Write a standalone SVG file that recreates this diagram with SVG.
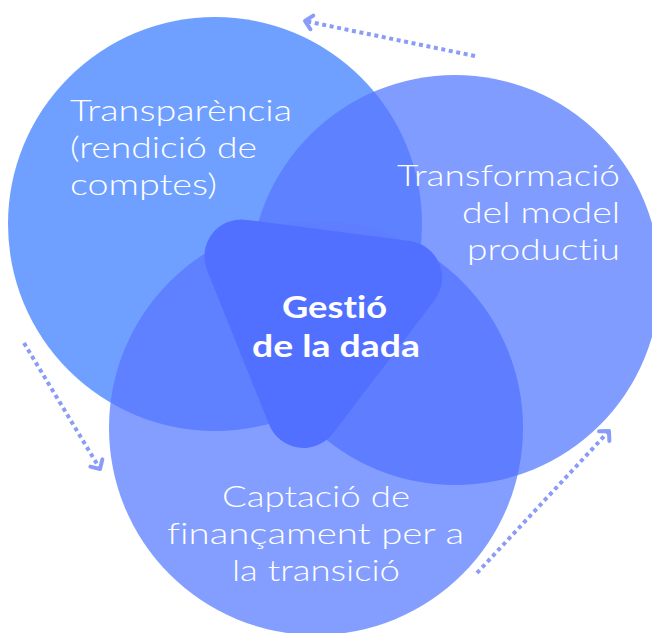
<svg xmlns="http://www.w3.org/2000/svg" width="652" height="633" viewBox="0 0 652 633">
  <style>
    .lbl { font-family: Lato, "Open Sans", "Liberation Sans", sans-serif; font-weight: 300; font-size: 30px; fill: #ffffff; font-variant-ligatures: none; }
    .ctr { font-family: Lato, "Open Sans", "Liberation Sans", sans-serif; font-weight: 700; font-size: 30px; fill: #ffffff; font-variant-ligatures: none; }
    .dots { fill: none; stroke: #8A9CF8; stroke-width: 4; stroke-dasharray: 4 3.6; }
    .ov { stroke: none; }
  </style>
  <defs>
    <clipPath id="clipC1"><circle cx="215" cy="224" r="207"/></clipPath>
    <clipPath id="clipC2"><circle cx="455" cy="280" r="205"/></clipPath>
    <marker id="chev" markerUnits="userSpaceOnUse" markerWidth="20" markerHeight="20" viewBox="-12 -10 16 20" refX="0" refY="0" orient="auto">
      <path d="M -7 -7 L 0 0 L -7 7" fill="none" stroke="#8A9CF8" stroke-width="4" stroke-linecap="round" stroke-linejoin="round"/>
    </marker>
  </defs>

  <g id="node-transparencia">
    <circle cx="215" cy="224" r="207" fill="#6FA0FF"/>
  </g>
  <g id="node-transformacio">
    <circle cx="455" cy="280" r="205" fill="#809CFF"/>
  </g>
  <g id="node-captacio">
    <circle cx="316" cy="428" r="207" fill="#839EFF"/>
  </g>
  <g id="overlaps">
    <circle class="ov" cx="455" cy="280" r="205" fill="#5E82FF" clip-path="url(#clipC1)"/>
    <circle class="ov" cx="316" cy="428" r="207" fill="#5F80FF" clip-path="url(#clipC1)"/>
    <circle class="ov" cx="316" cy="428" r="207" fill="#5E7DFF" clip-path="url(#clipC2)"/>
  </g>

  <g id="labels">
    <text class="lbl" x="70" y="121" textLength="222" lengthAdjust="spacingAndGlyphs">Transparència</text>
    <text class="lbl" x="70" y="158" textLength="187" lengthAdjust="spacingAndGlyphs">(rendició de</text>
    <text class="lbl" x="70" y="195" textLength="147" lengthAdjust="spacingAndGlyphs">comptes)</text>

    <text class="lbl" x="397" y="186" textLength="223" lengthAdjust="spacingAndGlyphs">Transformació</text>
    <text class="lbl" x="462" y="223" textLength="158" lengthAdjust="spacingAndGlyphs">del model</text>
    <text class="lbl" x="467" y="260" textLength="153" lengthAdjust="spacingAndGlyphs">productiu</text>

    <text class="lbl" x="222" y="507" textLength="188" lengthAdjust="spacingAndGlyphs">Captació de</text>
    <text class="lbl" x="167" y="544" textLength="297" lengthAdjust="spacingAndGlyphs">finançament per a</text>
    <text class="lbl" x="232" y="581" textLength="168" lengthAdjust="spacingAndGlyphs">la transició</text>
  </g>

  <g id="node-gestio">
    <path d="M 247.1 219.9 L 409.9 241.1 A 37 37 0 0 1 434.5 300.2 L 332.2 434.2 A 37 37 0 0 1 269.5 425.6 L 207.4 271.0 A 37 37 0 0 1 247.1 219.9 Z" fill="#5170FF"/>
    <text class="ctr" x="282" y="318" textLength="105" lengthAdjust="spacingAndGlyphs">Gestió</text>
    <text class="ctr" x="252" y="357" textLength="168" lengthAdjust="spacingAndGlyphs">de la dada</text>
  </g>

  <g id="connectors">
    <path class="dots" d="M 475 56 L 305 21" marker-end="url(#chev)"/>
    <path class="dots" d="M 24 343 L 100 469" marker-end="url(#chev)"/>
    <path class="dots" d="M 477 573 L 609 431" marker-end="url(#chev)"/>
  </g>
</svg>
